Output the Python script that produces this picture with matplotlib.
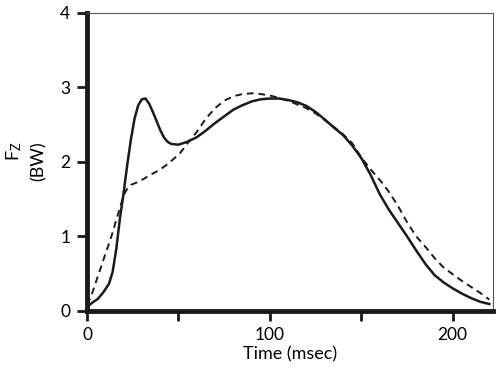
import matplotlib.pyplot as plt

# Fuerza vertical (BW) frente al tiempo (msec)
t_solid = [0, 3, 6, 9, 12, 14, 16, 18, 20, 22, 24, 26, 28, 30, 32, 34, 36, 38, 40, 42,
           44, 46, 50, 55, 60, 65, 70, 75, 80, 85, 90, 95, 100, 105, 110, 115, 120, 125,
           130, 135, 140, 145, 150, 155, 160, 165, 170, 175, 180, 185, 190, 195, 200,
           205, 210, 215, 220]
fz_solid = [0.05, 0.11, 0.16, 0.25, 0.36, 0.52, 0.83, 1.24, 1.58, 1.96, 2.30, 2.58, 2.76,
            2.84, 2.85, 2.78, 2.67, 2.55, 2.43, 2.33, 2.27, 2.24, 2.23, 2.27, 2.33, 2.42,
            2.52, 2.61, 2.70, 2.76, 2.81, 2.84, 2.85, 2.85, 2.83, 2.80, 2.75, 2.67, 2.57,
            2.46, 2.36, 2.22, 2.05, 1.83, 1.57, 1.36, 1.18, 1.00, 0.81, 0.63, 0.48, 0.38,
            0.30, 0.23, 0.17, 0.12, 0.09]

t_dash = [0, 2, 4, 6, 8, 10, 12, 14, 16, 18, 20, 22, 24, 27, 31, 35, 39, 43, 47, 51, 55,
          60, 65, 70, 75, 80, 85, 90, 95, 100, 105, 110, 115, 120, 125, 130, 135, 140,
          145, 150, 155, 160, 165, 170, 175, 180, 185, 190, 195, 200, 205, 210, 215, 220]
fz_dash = [0.08, 0.18, 0.32, 0.47, 0.61, 0.76, 0.90, 1.05, 1.22, 1.38, 1.55, 1.64, 1.69,
           1.72, 1.77, 1.83, 1.88, 1.95, 2.03, 2.12, 2.25, 2.40, 2.58, 2.72, 2.82, 2.88,
           2.91, 2.92, 2.91, 2.89, 2.86, 2.82, 2.77, 2.72, 2.65, 2.56, 2.47, 2.37, 2.25,
           2.06, 1.90, 1.76, 1.60, 1.41, 1.19, 1.00, 0.86, 0.71, 0.58, 0.49, 0.40, 0.32,
           0.24, 0.15]

plt.rcParams['font.family'] = ['Lato', 'DejaVu Sans']

fig = plt.figure(figsize=(5.03, 3.69), dpi=100)
ax = fig.add_axes([0.173, 0.158, 0.807, 0.807])

ax.plot(t_solid, fz_solid, color='#1a1a1a', lw=1.8)
ax.plot(t_dash, fz_dash, color='#1a1a1a', lw=1.4, ls=(0, (3.5, 2.5)))

ax.set_xlim(0, 222)
ax.set_ylim(0, 4)
ax.set_xticks([0, 100, 200])
ax.set_xticks([50, 150], minor=True)
ax.set_yticks([0, 1, 2, 3, 4])

for s in ['left', 'bottom']:
    ax.spines[s].set_linewidth(3.5)
    ax.spines[s].set_color('#1a1a1a')
for s in ['top', 'right']:
    ax.spines[s].set_linewidth(0.8)
    ax.spines[s].set_color('#555555')

ax.tick_params(which='both', direction='out', length=7, width=2, color='#1a1a1a',
               labelsize=12.5, top=False, right=False, pad=5)

ax.set_xlabel('Time (msec)', fontsize=13, labelpad=2)
# etiqueta del eje Y colocada a mano para que no se corte
fig.text(25 / 503, 1 - 161 / 369, '$\\mathregular{F_Z}$\n(BW)', fontsize=13,
         rotation=90, ha='center', va='center', linespacing=1.5,
         multialignment='right')

fig.savefig('out.png', dpi=100)
